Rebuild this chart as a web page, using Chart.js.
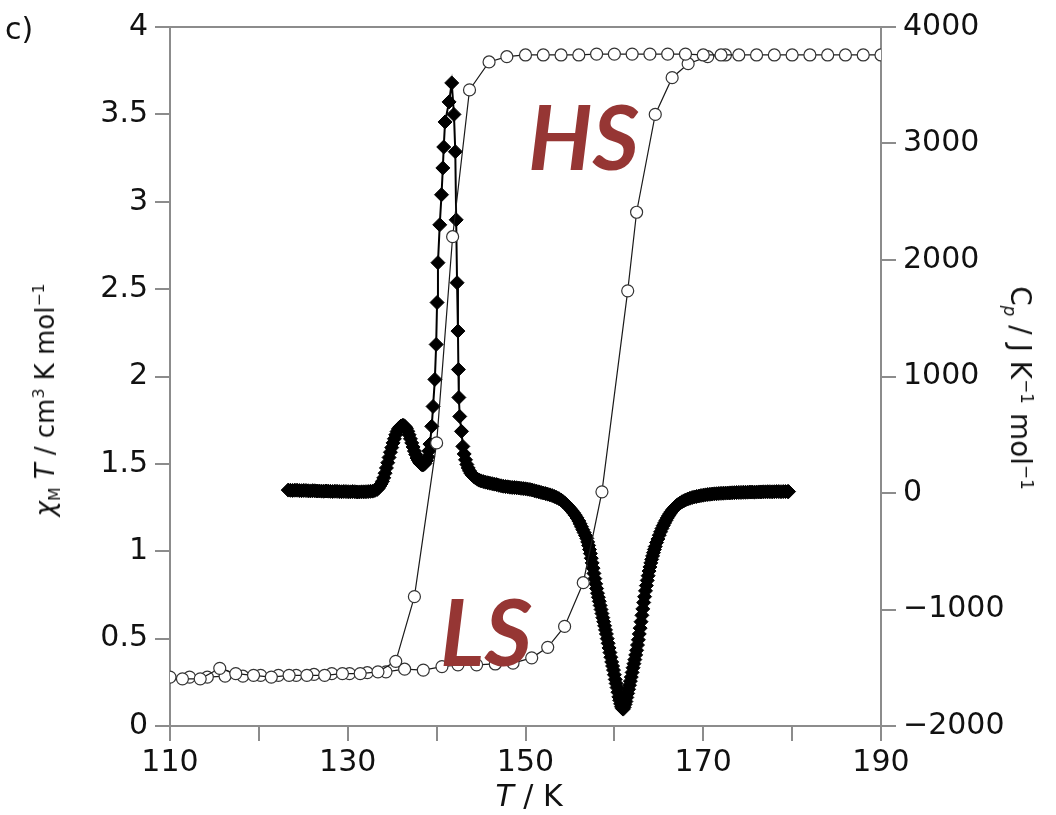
<!DOCTYPE html>
<html>
<head>
<meta charset="utf-8">
<script src="https://cdn.jsdelivr.net/npm/chart.js@4.4.1/dist/chart.umd.min.js"></script>
<style>
  body { margin: 0; background: #fff; }
  #wrap { position: relative; width: 1056px; height: 815px; font-family: "DejaVu Sans", sans-serif; color: #111; }
  #chart { position: absolute; left: 0; top: 0; }
  .label { position: absolute; white-space: nowrap; line-height: 1; }
  .axis-title { font-size: 26px; transform: translate(-50%, -50%); }
  .axis-title.left { transform: translate(-50%, -50%) rotate(-90deg); }
  .axis-title.right { transform: translate(-50%, -50%) rotate(90deg); }
  .axis-title sub, .axis-title sup { font-size: 0.6em; line-height: 0; }
  .panel { font-size: 30px; left: 5px; top: 14px; }
  .state { font-family: Lato, sans-serif; font-weight: bold; font-style: italic; font-size: 90px; color: #963634; }
</style>
</head>
<body>
<div id="wrap">
  <canvas id="chart" width="1056" height="815"></canvas>
  <div class="label panel">c)</div>
  <div class="label axis-title left" style="left:45px; top:400px;"><i>χ</i><sub>M</sub> <i>T</i> / cm<sup>3</sup> K mol<sup>−1</sup></div>
  <div class="label axis-title right" style="left:1020px; top:388px; font-size:28px;">C<sub><i>p</i></sub> / J K<sup>−1</sup> mol<sup>−1</sup></div>
  <div class="label axis-title" style="left:529px; top:796px; font-size:30px;"><i>T</i> / K</div>
  <div class="label state" style="left:528px; top:90px;">HS</div>
  <div class="label state" style="left:440px; top:585px; font-size:92px;">LS</div>
</div>
<script>
// chi_M T, cooling run (HS -> LS)
const coolT = [190, 188, 186, 184, 182, 180, 178, 176, 174, 172, 170, 168, 166, 164, 162, 160, 158, 156, 154, 152, 150,
    147.9, 145.9, 143.7, 141.8, 140.0, 137.5, 135.4, 133.4, 131.4, 129.4, 127.4, 125.4, 123.4, 121.4, 119.4, 117.4, 115.6, 113.4, 111.4];
const coolChi = [3.84, 3.84, 3.84, 3.84, 3.84, 3.84, 3.84, 3.84, 3.84, 3.84, 3.84, 3.845, 3.845, 3.845, 3.845, 3.845, 3.845, 3.84, 3.84, 3.84, 3.84,
    3.83, 3.80, 3.64, 2.80, 1.62, 0.74, 0.37, 0.31, 0.30, 0.30, 0.29, 0.29, 0.29, 0.28, 0.29, 0.30, 0.33, 0.27, 0.27];

// chi_M T, heating run (LS -> HS)
const heatT = [110, 112.2, 114.2, 116.2, 118.2, 120.2, 122.2, 124.2, 126.2, 128.2, 130.2, 132.2, 134.3, 136.4, 138.5, 140.6, 142.4, 144.5, 146.6, 148.6,
    150.7, 152.5, 154.4, 156.5, 158.6, 161.5, 162.5, 164.6, 166.5, 168.3, 170.5, 172.5];
const heatChi = [0.28, 0.28, 0.28, 0.285, 0.285, 0.29, 0.29, 0.29, 0.295, 0.30, 0.30, 0.305, 0.31, 0.325, 0.32, 0.34, 0.35, 0.35, 0.355, 0.36,
    0.39, 0.45, 0.57, 0.82, 1.34, 2.49, 2.94, 3.50, 3.71, 3.79, 3.83, 3.84];

// heat capacity run: [T / K, Cp / J K-1 mol-1]
const cpRun = [
    [123.3, 25], [123.55, 23], [123.8, 22], [124.05, 24], [124.3, 24], [124.55, 21], [124.8, 20], [125.05, 22], [125.3, 21],
    [125.55, 19], [125.8, 18], [126.05, 20], [126.3, 19], [126.55, 17], [126.8, 17], [127.05, 16], [127.3, 15], [127.55, 17],
    [127.8, 16], [128.05, 14], [128.3, 13], [128.55, 15], [128.8, 14], [129.05, 12], [129.3, 11], [129.55, 13], [129.8, 12],
    [130.05, 11], [130.3, 10], [130.55, 12], [130.8, 11], [131.05, 9], [131.3, 9], [131.55, 10], [131.8, 10], [132.05, 11],
    [132.3, 12], [132.55, 14], [132.8, 16], [133.05, 22], [133.3, 30],
    // first (small) anomaly on cooling
    [133.45, 42], [133.6, 60], [133.75, 78], [133.9, 100], [134.05, 130], [134.2, 170], [134.35, 215], [134.5, 260],
    [134.65, 305], [134.8, 350], [134.95, 390], [135.1, 430], [135.25, 465], [135.4, 500], [135.55, 528], [135.7, 550],
    [135.85, 565], [136.0, 575], [136.15, 580], [136.3, 580], [136.45, 570], [136.6, 555], [136.75, 530], [136.9, 500],
    [137.05, 465], [137.2, 430], [137.35, 395], [137.5, 360], [137.65, 330], [137.8, 300], [137.95, 280], [138.1, 260],
    [138.25, 248], [138.4, 240], [138.55, 244], [138.7, 255], [138.85, 278], [139.0, 310], [139.12, 360], [139.25, 420],
    // main peak
    [139.45, 572], [139.6, 743], [139.8, 975], [139.95, 1275], [140.05, 1635], [140.15, 1977], [140.35, 2302], [140.55, 2560],
    [140.7, 2790], [140.8, 2970], [140.95, 3185], [141.4, 3357], [141.7, 3520], [141.95, 3250], [142.1, 2930], [142.2, 2345],
    [142.3, 1805], [142.4, 1390], [142.45, 1060], [142.5, 820], [142.6, 657], [142.8, 529], [142.95, 400],
    [143.1, 335], [143.25, 285], [143.4, 245], [143.55, 215], [143.7, 190], [143.85, 170], [144.0, 155], [144.2, 140],
    [144.4, 128], [144.6, 118], [144.8, 110], [145.0, 104], [145.25, 98], [145.5, 93], [145.75, 88], [146.0, 84],
    [146.25, 80], [146.5, 76], [146.75, 72], [147.0, 66], [147.25, 62], [147.5, 58], [147.75, 55], [148.0, 53],
    [148.25, 50], [148.5, 48], [148.75, 47], [149.0, 45], [149.25, 43], [149.5, 40], [149.75, 38], [150.0, 36],
    [150.25, 33], [150.5, 30], [150.75, 26], [151.0, 20], [151.25, 15], [151.5, 10], [151.75, 5], [152.0, 0],
    [152.25, -5], [152.5, -10], [152.75, -16], [153.0, -22], [153.25, -30], [153.5, -38], [153.75, -48], [154.0, -60],
    [154.2, -72], [154.4, -85], [154.6, -100], [154.8, -115], [155.0, -132], [155.2, -150], [155.4, -170], [155.6, -190],
    [155.8, -214], [156.0, -240], [156.15, -265], [156.3, -290], [156.45, -315], [156.6, -340], [156.75, -365], [156.9, -390],
    // endothermic dip on heating
    [157.0, -420], [157.1, -450], [157.2, -485], [157.3, -520], [157.4, -560], [157.5, -600], [157.6, -645], [157.7, -690],
    [157.8, -735], [157.9, -780], [158.0, -820], [158.1, -860], [158.2, -895], [158.3, -930], [158.4, -965], [158.5, -1000],
    [158.6, -1035], [158.7, -1070], [158.8, -1105], [158.9, -1140], [159.0, -1175], [159.1, -1210], [159.2, -1250], [159.3, -1290],
    [159.4, -1330], [159.5, -1370], [159.6, -1410], [159.7, -1450], [159.8, -1485], [159.9, -1520], [160.0, -1560], [160.1, -1600],
    [160.2, -1635], [160.3, -1670], [160.4, -1710], [160.5, -1750], [160.6, -1780], [160.7, -1810], [160.8, -1835], [160.9, -1850],
    [161.0, -1855], [161.1, -1840], [161.2, -1815], [161.3, -1790], [161.4, -1755], [161.5, -1720], [161.6, -1685], [161.7, -1650],
    [161.8, -1615], [161.9, -1580], [162.0, -1540], [162.1, -1500], [162.2, -1465], [162.3, -1430], [162.4, -1390], [162.5, -1350],
    [162.6, -1305], [162.7, -1260], [162.8, -1210], [162.9, -1160], [163.0, -1105], [163.1, -1050], [163.2, -995], [163.3, -940],
    [163.4, -890], [163.5, -840], [163.6, -795], [163.7, -750], [163.8, -710], [163.9, -670], [164.0, -635], [164.1, -600],
    [164.2, -570], [164.3, -540], [164.4, -512], [164.5, -485], [164.6, -460], [164.75, -425], [164.9, -395], [165.05, -362],
    [165.2, -333], [165.35, -305], [165.5, -280], [165.65, -257], [165.8, -235], [165.95, -214], [166.1, -195], [166.25, -177],
    [166.4, -160], [166.55, -145], [166.7, -132], [166.85, -120], [167.0, -108], [167.2, -96], [167.4, -86], [167.6, -76],
    [167.8, -68], [168.0, -60], [168.25, -52], [168.5, -45], [168.75, -39], [169.0, -34], [169.25, -30], [169.5, -26],
    [169.75, -22], [170.0, -19], [170.25, -16], [170.5, -13], [170.75, -11], [171.0, -9], [171.25, -7], [171.5, -6],
    [171.75, -4], [172.0, -3], [172.25, -2], [172.5, -1], [172.75, 0], [173.0, 1], [173.25, 2], [173.5, 3],
    [173.75, 4], [174.0, 5], [174.25, 5], [174.5, 6], [174.75, 6], [175.0, 7], [175.25, 8], [175.5, 8],
    [175.75, 7], [176.0, 8], [176.25, 9], [176.5, 9], [176.75, 10], [177.0, 10], [177.25, 11], [177.5, 11],
    [177.75, 10], [178.0, 11], [178.25, 12], [178.5, 12], [178.75, 11], [179.0, 12], [179.25, 12], [179.5, 12], [179.6, 12]
];

const xTickLabels = [110, 130, 150, 170, 190];

const axisGray = "#8c8c8c";
const tickFont = { family: "DejaVu Sans", size: 30 };

const toPoints = (xs, ys) => xs.map((x, i) => ({ x, y: ys[i] }));

// closes the frame along the top of the plot
const topFrame = {
    id: "topFrame",
    afterDraw(chart) {
        const { ctx, chartArea } = chart;
        ctx.save();
        ctx.strokeStyle = axisGray;
        ctx.lineWidth = 2;
        ctx.beginPath();
        ctx.moveTo(chartArea.left - 1, chartArea.top);
        ctx.lineTo(chartArea.right + 1, chartArea.top);
        ctx.stroke();
        ctx.restore();
    }
};

const circleStyle = {
    showLine: true,
    borderColor: "#1a1a1a",
    borderWidth: 1.2,
    pointStyle: "circle",
    pointRadius: 6,
    pointBorderWidth: 1.2,
    pointBorderColor: "#333",
    pointBackgroundColor: "#fff",
    yAxisID: "y"
};

new Chart(document.getElementById("chart"), {
    type: "scatter",
    data: {
        datasets: [
            { ...circleStyle, label: "cooling", data: toPoints(coolT, coolChi) },
            { ...circleStyle, label: "heating", data: toPoints(heatT, heatChi) },
            {
                label: "Cp",
                data: cpRun.map(([x, y]) => ({ x, y })),
                showLine: true,
                borderColor: "#000",
                borderWidth: 2,
                pointStyle: "rectRot",
                pointRadius: 7,
                pointBorderWidth: 1,
                pointBorderColor: "#000",
                pointBackgroundColor: "#000",
                yAxisID: "y2"
            }
        ]
    },
    options: {
        responsive: false,
        animation: false,
        devicePixelRatio: 1,
        layout: { padding: { top: 27, left: 0, right: 0, bottom: 0 } },
        plugins: {
            legend: { display: false },
            tooltip: { enabled: false }
        },
        scales: {
            x: {
                type: "linear",
                min: 110,
                max: 190,
                afterFit: (scale) => { scale.height = 89; },
                ticks: {
                    stepSize: 10,
                    autoSkip: false,
                    maxRotation: 0,
                    padding: 4,
                    color: "#111",
                    font: tickFont,
                    callback: (value) => (xTickLabels.includes(value) ? String(value) : "")
                },
                grid: { drawOnChartArea: false, tickLength: 15, color: axisGray, lineWidth: 2 },
                border: { color: axisGray, width: 2 }
            },
            y: {
                position: "left",
                min: 0,
                max: 4,
                afterFit: (scale) => { scale.width = 170; },
                ticks: {
                    stepSize: 0.5,
                    padding: 7,
                    color: "#111",
                    font: tickFont,
                    callback: (value) => String(value)
                },
                grid: { drawOnChartArea: false, tickLength: 15, color: axisGray, lineWidth: 2 },
                border: { color: axisGray, width: 2 }
            },
            y2: {
                position: "right",
                min: -2000,
                max: 4000,
                afterFit: (scale) => { scale.width = 175; },
                ticks: {
                    stepSize: 1000,
                    padding: 7,
                    color: "#111",
                    font: tickFont,
                    callback: (value) => (value < 0 ? "\u2212" + Math.abs(value) : String(value))
                },
                grid: { drawOnChartArea: false, tickLength: 15, color: axisGray, lineWidth: 2 },
                border: { color: axisGray, width: 2 }
            }
        }
    },
    plugins: [topFrame]
});
</script>
</body>
</html>
